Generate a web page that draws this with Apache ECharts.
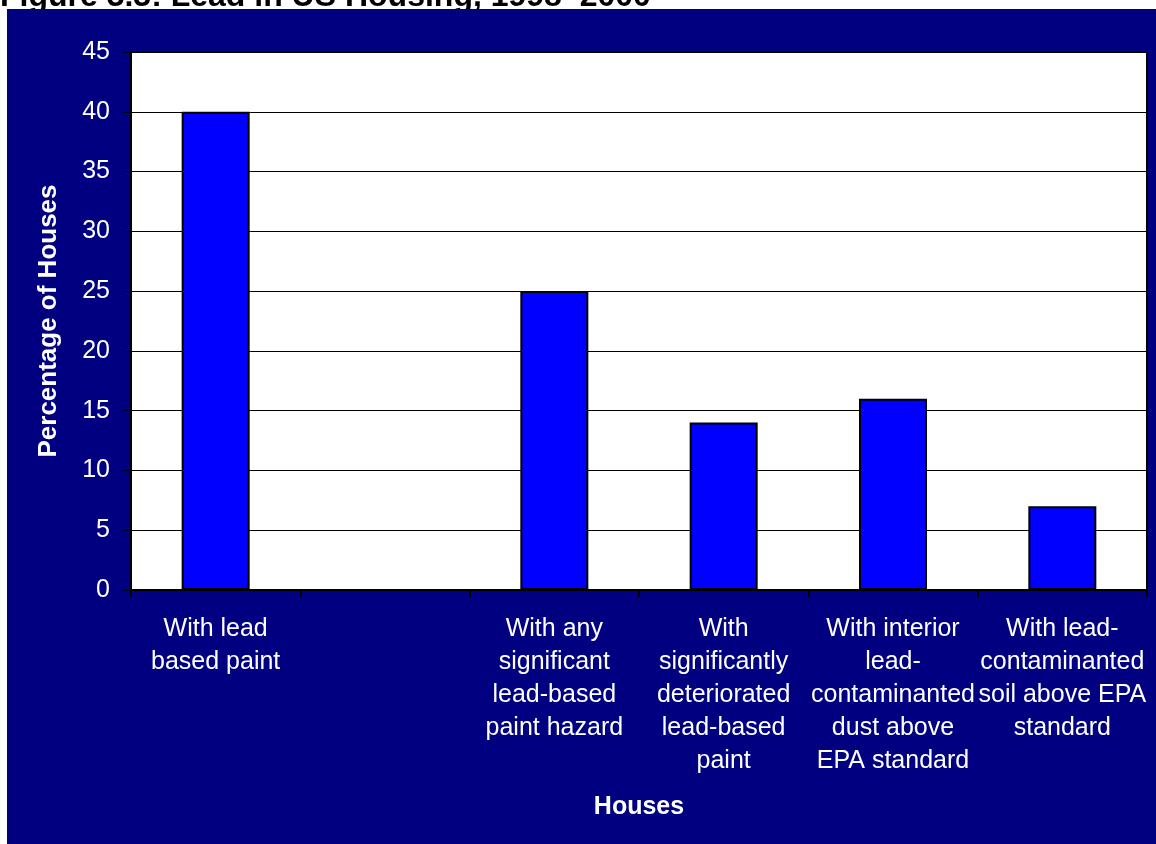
<!DOCTYPE html>
<html>
<head>
<meta charset="utf-8">
<script src="https://cdn.jsdelivr.net/npm/echarts@6/dist/echarts.min.js"></script>
<style>
  html, body { margin: 0; padding: 0; background: #ffffff; }
  #chart { width: 1156px; height: 844px; }
</style>
</head>
<body>
<div id="chart"></div>
<script>
// Lead hazards found in US housing stock
const categories = [
  'With lead\nbased paint',
  '',
  'With any\nsignificant\nlead-based\npaint hazard',
  'With\nsignificantly\ndeteriorated\nlead-based\npaint',
  'With interior\nlead-\ncontaminanted\ndust above\nEPA standard',
  'With lead-\ncontaminanted\nsoil above EPA\nstandard'
];
const percentHouses = [40, null, 25, 14, 16, 7];
const yTicks = { min: 0, max: 45, interval: 5 };

const titleText = 'Figure 3.3: Lead in US Housing, 1998\u20132000';
const FONT = 'Arial, "Liberation Sans", Helvetica, sans-serif';

const chart = echarts.init(document.getElementById('chart'), null, { renderer: 'canvas' });

chart.setOption({
  backgroundColor: '#ffffff',
  animation: false,
  graphic: [
    {
      type: 'text',
      z: -10,
      x: 0,
      y: -3,
      style: {
        text: titleText,
        font: 'bold 32px ' + FONT,
        fill: '#000000',
        verticalAlign: 'middle',
        align: 'left'
      }
    },
    {
      type: 'rect',
      z: -9,
      shape: { x: 7, y: 9, width: 1149, height: 835 },
      style: { fill: '#000080' }
    }
  ],
  grid: {
    left: 131,
    top: 52,
    right: 9,
    bottom: 254,
    show: true,
    backgroundColor: '#ffffff',
    borderColor: '#000000',
    borderWidth: 2,
    containLabel: false
  },
  xAxis: {
    type: 'category',
    data: categories,
    name: 'Houses',
    nameLocation: 'middle',
    nameGap: 205,
    nameTextStyle: { color: '#ffffff', fontFamily: FONT, fontWeight: 'bold', fontSize: 25 },
    axisLine: { lineStyle: { color: '#000000', width: 2 } },
    axisTick: { show: true, interval: 0, length: 7, alignWithLabel: false, lineStyle: { color: '#000000', width: 2 } },
    axisLabel: {
      interval: 0,
      color: '#ffffff',
      fontFamily: FONT,
      fontSize: 25,
      lineHeight: 33,
      margin: 23,
      hideOverlap: false
    },
    splitLine: { show: false }
  },
  yAxis: {
    type: 'value',
    min: yTicks.min,
    max: yTicks.max,
    interval: yTicks.interval,
    name: 'Percentage of Houses',
    nameLocation: 'middle',
    nameGap: 69,
    nameTextStyle: { color: '#ffffff', fontFamily: FONT, fontWeight: 'bold', fontSize: 26 },
    axisLine: { show: true, lineStyle: { color: '#000000', width: 2 } },
    axisTick: { show: true, length: 8, lineStyle: { color: '#000000', width: 1 } },
    axisLabel: { color: '#ffffff', fontFamily: FONT, fontSize: 25, margin: 21 },
    splitLine: { show: true, lineStyle: { color: '#000000', width: 1 } }
  },
  series: [
    {
      type: 'bar',
      data: percentHouses,
      barWidth: 68,
      itemStyle: { color: '#0000ff', borderColor: '#000000', borderWidth: 2 }
    }
  ]
});
</script>
</body>
</html>
